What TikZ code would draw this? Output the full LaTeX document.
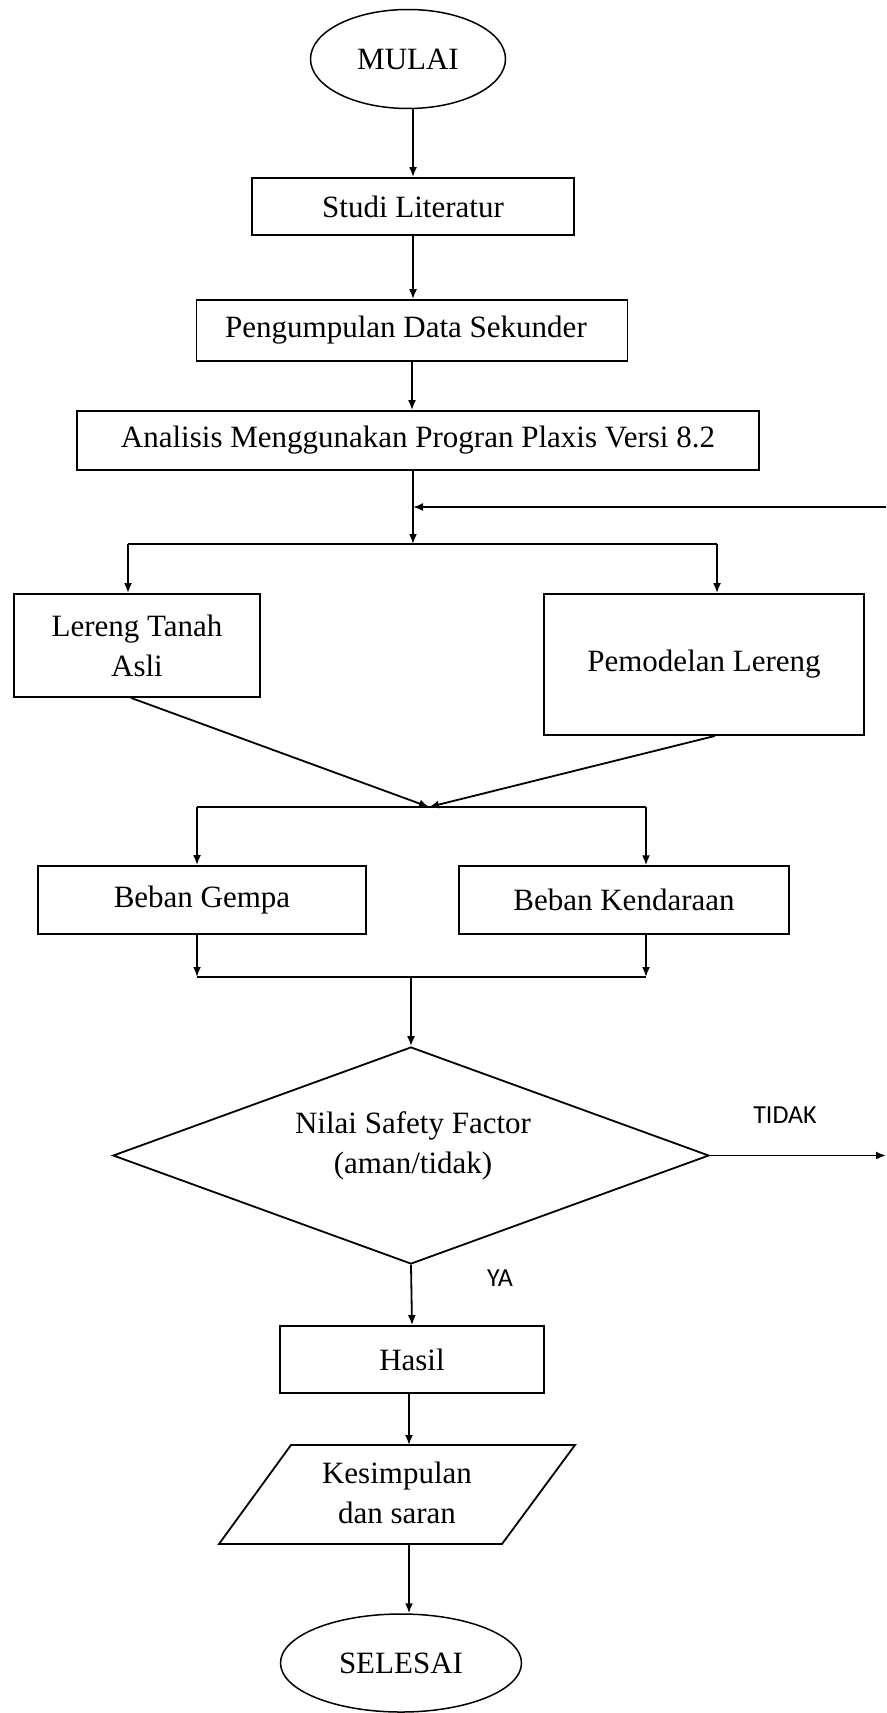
\documentclass[tikz,border=0pt]{standalone}
\usepackage{fontspec}
\setmainfont{Liberation Serif}
\newfontfamily\labelfont{Carlito}
\usetikzlibrary{shapes.geometric,arrows.meta}
\begin{document}
\begin{tikzpicture}[x=1pt,y=-1pt,
  box/.style={draw,line width=1.8pt,rectangle,inner sep=0pt,align=center,font=\fontsize{31}{40}\selectfont},
  term/.style={draw,line width=1.5pt,ellipse,inner sep=0pt,font=\fontsize{31}{40}\selectfont},
  txt/.style={inner sep=0pt,align=center,font=\fontsize{31}{40}\selectfont},
  arr/.style={line width=1.8pt,-{Latex[length=10pt,width=8pt]}},
  ln/.style={line width=1.8pt},
  lbl/.style={font=\labelfont\fontsize{26}{30}\selectfont,inner sep=0pt}]
\useasboundingbox (0,0) rectangle (886,1713);
% nodes
\node[term,minimum width=195pt,minimum height=99pt] (mulai) at (408,59) {MULAI};
\node[box,minimum width=322pt,minimum height=57pt] (studi) at (413,206.5) {Studi Literatur};
\node[box,minimum width=431pt,minimum height=61pt] (peng) at (412,330.5) {Pengumpulan Data Sekunder\hspace{12pt}};
\node[box,minimum width=682pt,minimum height=59pt] (anal) at (418,440.5) {Analisis Menggunakan Progran Plaxis Versi 8.2};
\node[box,minimum width=246pt,minimum height=103pt] (lereng) at (137,645.5) {Lereng Tanah\\Asli};
\node[box,minimum width=320pt,minimum height=141pt] (pemod) at (704,664.5) {Pemodelan Lereng};
\node[box,minimum width=328pt,minimum height=68pt] (gempa) at (202,900) {Beban Gempa};
\node[box,line width=1.4pt,minimum width=330pt,minimum height=68pt] (kend) at (624,900) {Beban Kendaraan};
\node[draw,diamond,line width=1.8pt,minimum width=596pt,minimum height=217pt,inner sep=0pt] (dec) at (411,1155.5) {};
\node[txt] (dectext) at (413,1146) {Nilai Safety Factor\\(aman/tidak)};
\node[box,minimum width=264pt,minimum height=67pt] (hasil) at (412,1359.5) {Hasil};
\node[txt] (kes) at (397,1493) {Kesimpulan\\dan saran};
\node[term,minimum width=241pt,minimum height=98pt] (selesai) at (401,1663) {SELESAI};
\node[lbl] (tidak) at (785,1115) {TIDAK};
\node[lbl] (ya) at (500,1278) {YA};
% parallelogram
\coordinate (pTL) at (291,1445);
\coordinate (pTR) at (575,1445);
\coordinate (pBR) at (502,1544);
\coordinate (pBL) at (219,1544);
\coordinate (pTop) at (409,1445);
\coordinate (pBot) at (409,1544);
\draw[ln,line join=miter] (pTL) -- (pTR) -- (pBR) -- (pBL) -- cycle;
% junction coordinates
\coordinate (j1) at (413,544);
\coordinate (jL) at (128,544);
\coordinate (jR) at (717,544);
\coordinate (fbR) at (886,507);
\coordinate (m1) at (429,807);
\coordinate (mL) at (197,807);
\coordinate (mR) at (646,807);
\coordinate (bL) at (197,977);
\coordinate (bR) at (646,977);
\coordinate (bM) at (411,977);
\coordinate (tEnd) at (886,1155.5);
% connectors
\draw[arr] (studi.north |- mulai.south) -- (studi.north);
\draw[arr] (studi.south) -- (studi.south |- peng.north);
\draw[arr] (peng.south) -- (peng.south |- anal.north);
\draw[arr] (j1 |- anal.south) -- (j1);
\draw[arr] (fbR) -- (fbR -| j1);
\draw[ln] (jL) -- (jR);
\draw[arr] (jL) -- (jL |- lereng.north);
\draw[arr] (jR) -- (jR |- pemod.north);
\draw[arr] ([xshift=-6pt]lereng.south) -- (m1);
\draw[arr] ([xshift=11pt]pemod.south) -- (m1);
\draw[ln] (mL) -- (mR);
\draw[arr] (mL) -- (mL |- gempa.north);
\draw[arr] (mR) -- (mR |- kend.north);
\draw[arr] (mL |- gempa.south) -- (bL);
\draw[arr] (mR |- kend.south) -- (bR);
\draw[ln] (bL) -- (bR);
\draw[arr] (bM) -- (dec.north);
\draw[arr] (dec.east) -- (tEnd);
\draw[arr] (dec.south) -- (hasil.north);
\draw[arr] (hasil.south -| pTop) -- (pTop);
\draw[arr] (pBot) -- (pBot |- selesai.north);
\end{tikzpicture}
\end{document}
